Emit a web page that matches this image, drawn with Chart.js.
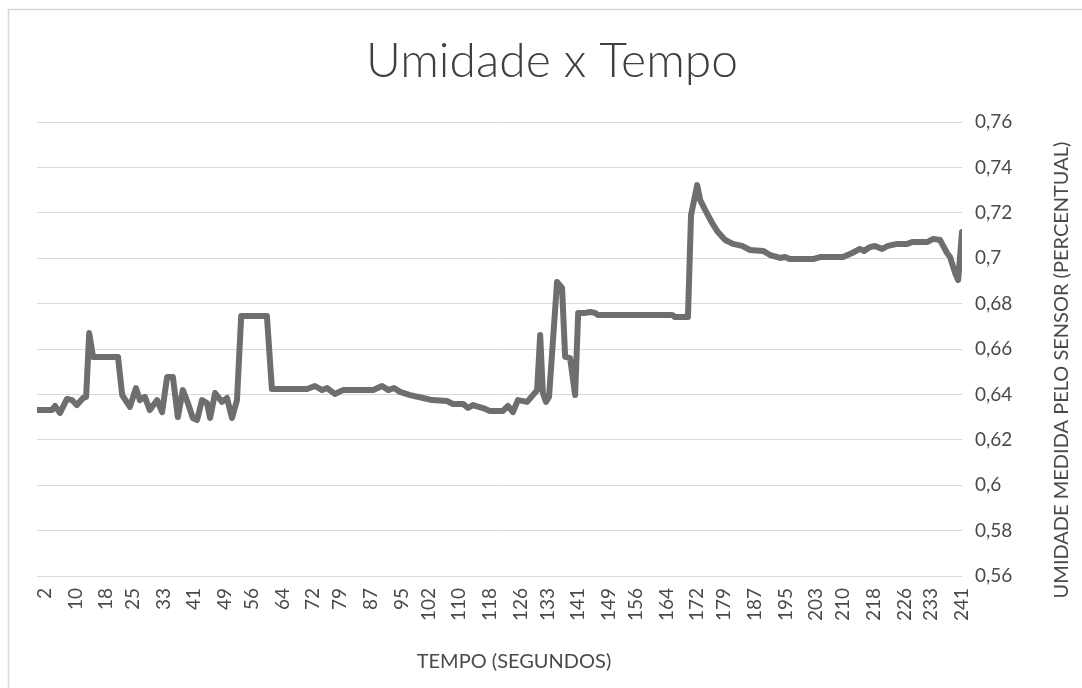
<!DOCTYPE html>
<html>
<head>
<meta charset="utf-8">
<script src="https://cdn.jsdelivr.net/npm/chart.js@4"></script>
<style>
  html, body { margin: 0; padding: 0; background: #fff; }
  #wrap { position: relative; width: 1082px; height: 688px; }
</style>
</head>
<body>
<div id="wrap"><canvas id="chart" width="1082" height="688"></canvas></div>
<script>
  // tempo (s) e umidade
  const tempos = [0, 3.9, 4.7, 6.0, 7.8, 9.1, 10.4, 12.0, 12.8, 13.6, 14.6, 21.1, 22.2, 24.2, 25.8, 26.8,
    28.1, 29.4, 31.3, 32.6, 33.9, 35.4, 36.7, 38.0, 39.3, 40.6, 41.7, 43.0, 44.3, 45.1, 46.4, 48.2,
    49.5, 50.8, 52.1, 53.2, 59.9, 61.2, 70.4, 72.4, 74.3, 75.6, 77.6, 79.7, 87.6, 89.9, 91.5, 93.0,
    94.6, 97.2, 100.6, 102.9, 106.8, 108.4, 111.0, 112.3, 113.6, 116.2, 118.0, 121.4, 122.7, 124.0,
    125.3, 127.7, 129.2, 130.3, 131.1, 131.8, 132.6, 133.4, 135.5, 136.8, 137.6, 138.9, 140.2, 141.0,
    142.8, 144.1, 145.4, 146.2, 165.5, 166.2, 169.6, 170.4, 172.0, 172.8, 174.1, 175.9, 177.4, 179.3,
    181.3, 183.7, 185.8, 189.2, 191.0, 193.6, 194.9, 196.2, 202.2, 204.0, 210.0, 212.4, 214.4, 215.5,
    217.0, 218.3, 220.2, 221.7, 224.1, 226.7, 228.0, 231.9, 233.5, 235.3, 237.1, 237.9, 239.2, 240.0, 241];
  const umidade = [0.6331, 0.6331, 0.6349, 0.6318, 0.6380, 0.6375, 0.6353, 0.6384, 0.6389, 0.6670, 0.6565, 0.6565,
    0.6397, 0.6345, 0.6428, 0.6375, 0.6389, 0.6331, 0.6375, 0.6322, 0.6477, 0.6477, 0.6300, 0.6419,
    0.6362, 0.6296, 0.6287, 0.6375, 0.6362, 0.6296, 0.6406, 0.6367, 0.6384, 0.6296, 0.6375, 0.6745,
    0.6745, 0.6424, 0.6424, 0.6437, 0.6419, 0.6428, 0.6402, 0.6419, 0.6419, 0.6437, 0.6419, 0.6428,
    0.6411, 0.6397, 0.6384, 0.6375, 0.6371, 0.6358, 0.6358, 0.6340, 0.6353, 0.6340, 0.6327, 0.6327,
    0.6349, 0.6322, 0.6375, 0.6367, 0.6397, 0.6419, 0.6662, 0.6406, 0.6367, 0.6389, 0.6895, 0.6869,
    0.6565, 0.6560, 0.6397, 0.6759, 0.6759, 0.6763, 0.6759, 0.6750, 0.6750, 0.6741, 0.6741, 0.7190,
    0.7322, 0.7256, 0.7212, 0.7155, 0.7115, 0.7080, 0.7063, 0.7054, 0.7036, 0.7032, 0.7014, 0.7001,
    0.7005, 0.6996, 0.6996, 0.7005, 0.7005, 0.7023, 0.7041, 0.7032, 0.7049, 0.7054, 0.7041, 0.7054,
    0.7063, 0.7063, 0.7071, 0.7071, 0.7085, 0.7080, 0.7023, 0.7005, 0.6935, 0.6904, 0.7115];
  const xTicks = [2, 10, 18, 25, 33, 41, 49, 56, 64, 72, 79, 87, 95, 102, 110, 118, 126, 133, 141,
    149, 156, 164, 172, 179, 187, 195, 203, 210, 218, 226, 233, 241];
  const yTicks = [0.56, 0.58, 0.6, 0.62, 0.64, 0.66, 0.68, 0.7, 0.72, 0.74, 0.76];

  const txt = '#4a4a4a';
  const font = 'Lato, "Open Sans", sans-serif';

  const decor = {
    id: 'decor',
    beforeDraw(chart) {
      const c = chart.ctx;
      c.save();
      c.strokeStyle = '#d9d9d9';
      c.lineWidth = 1.5;
      c.strokeRect(8.5, 9.5, 1100, 700);
      c.restore();
    },
    afterDraw(chart) {
      const c = chart.ctx;
      c.save();
      c.fillStyle = '#3f3f3f';
      c.textAlign = 'center';
      c.textBaseline = 'middle';
      c.font = '300 48px ' + font;
      c.fillText('Umidade x Tempo', 552, 62);
      c.fillStyle = txt;
      c.font = '20px ' + font;
      c.fillText('TEMPO (SEGUNDOS)', 514, 662);
      c.translate(1062, 370);
      c.rotate(-Math.PI / 2);
      c.fillText('UMIDADE MEDIDA PELO SENSOR (PERCENTUAL)', 0, 0);
      c.restore();
    }
  };

  new Chart(document.getElementById('chart'), {
    type: 'line',
    data: {
      datasets: [{
        data: tempos.map((t, i) => ({ x: t, y: umidade[i] })),
        borderColor: '#6e6e6e',
        borderWidth: 6,
        pointRadius: 0,
        tension: 0,
        borderJoinStyle: 'round',
        borderCapStyle: 'round'
      }]
    },
    options: {
      responsive: false,
      animation: false,
      layout: { padding: { left: 37, top: 122, right: 0, bottom: 0 } },
      plugins: { legend: { display: false }, title: { display: false }, tooltip: { enabled: false } },
      scales: {
        x: {
          type: 'linear', min: 0, max: 241,
          afterBuildTicks: s => { s.ticks = xTicks.map(v => ({ value: v })); },
          afterFit: s => { s.height = 112; },
          grid: { display: false },
          border: { display: false },
          ticks: { autoSkip: false, minRotation: 90, maxRotation: 90, padding: 4, color: txt,
            font: { family: font, size: 19 }, callback: v => String(v) }
        },
        y: {
          position: 'right', min: 0.56, max: 0.76,
          afterBuildTicks: s => { s.ticks = yTicks.map(v => ({ value: v })); },
          afterFit: s => { s.width = 120; },
          grid: { color: '#d9d9d9', lineWidth: 1, drawTicks: false },
          border: { display: false },
          ticks: { padding: 13, color: txt, font: { family: font, size: 19 },
            callback: v => String(Math.round(v * 100) / 100).replace('.', ',') }
        }
      }
    },
    plugins: [decor]
  });
</script>
</body>
</html>
